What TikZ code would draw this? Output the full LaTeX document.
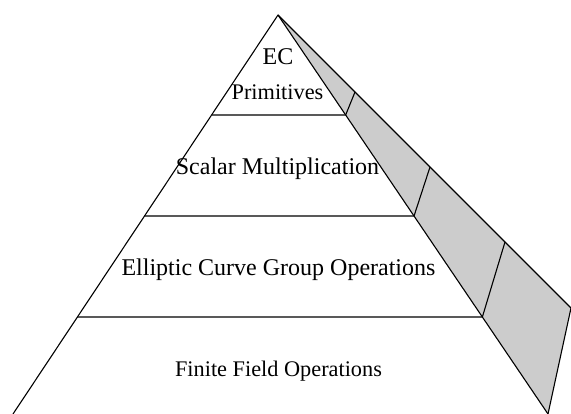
\documentclass[tikz,border=0pt]{standalone}
\usepackage{fontspec}
\setmainfont{Liberation Serif}
\usetikzlibrary{calc}
\tikzset{
  edge/.style={line width=1.1pt, line join=round},
  face/.style={fill=black!20},
  lbl/.style={anchor=base, inner sep=0pt, font=\fontsize{24}{26}\selectfont},
  lblsmall/.style={anchor=base, inner sep=0pt, font=\fontsize{22.3}{24}\selectfont}
}
\begin{document}
\begin{tikzpicture}[x=1pt,y=-1pt]
\clip (0,0) rectangle (571,414);
\coordinate (apex) at (278,15);
\coordinate (bl) at (13,414);
\coordinate (br) at (548,414);
\coordinate (bk) at (571,308);
% shaded side face
\fill[face] (apex) -- (br) -- (bk) -- cycle;
\draw[edge] (apex) -- (bk);
\draw[edge] (br) -- (bk);
% front face
\draw[edge] (bl) -- (apex) -- (br);
% level lines
\coordinate (l1) at ($(apex)!0.2506!(bl)$);
\coordinate (r1) at ($(apex)!0.2506!(br)$);
\coordinate (l2) at ($(apex)!0.5038!(bl)$);
\coordinate (r2) at ($(apex)!0.5038!(br)$);
\coordinate (l3) at ($(apex)!0.7569!(bl)$);
\coordinate (r3) at ($(apex)!0.7569!(br)$);
\coordinate (k1) at ($(apex)!0.2628!(bk)$);
\coordinate (k2) at ($(apex)!0.5188!(bk)$);
\coordinate (k3) at ($(apex)!0.7747!(bk)$);
\draw[edge] (l1) -- (r1) -- (k1);
\draw[edge] (l2) -- (r2) -- (k2);
\draw[edge] (l3) -- (r3) -- (k3);
% labels
\node[lbl] (ec) at (278,65) {EC};
\node[lblsmall] (prim) at (277.5,100) {Primitives};
\node[lbl] (scal) at (277.5,175) {Scalar Multiplication};
\node[lbl] (ecgo) at (278.5,276) {Elliptic Curve Group Operations};
\node[lblsmall] (ffo) at (278.5,377) {Finite Field Operations};
\end{tikzpicture}
\end{document}
